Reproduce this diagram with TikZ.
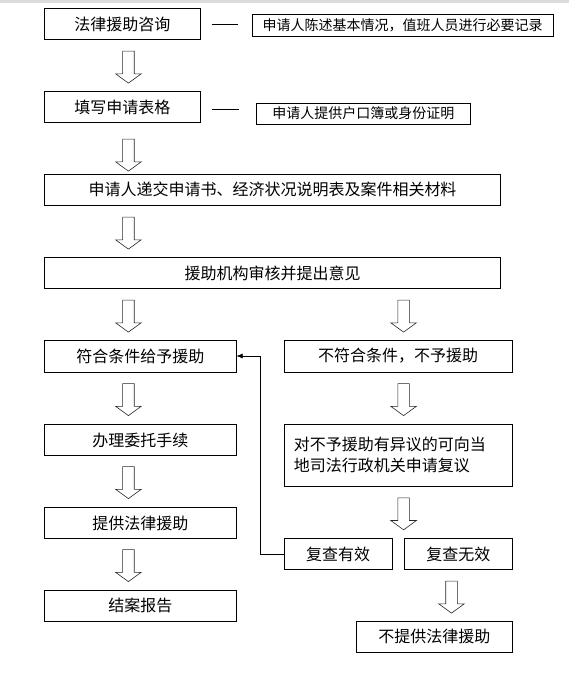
\documentclass[tikz,border=0pt]{standalone}
\usepackage{fontspec}
\setmainfont{Noto Sans CJK SC}
\usetikzlibrary{arrows.meta,shapes.arrows,calc}
\definecolor{cEdge}{RGB}{220,220,220}
\tikzset{
  box/.style     = {draw=black, line width=0.8pt, inner sep=0pt,
                    minimum height=31pt, font=\fontsize{16}{19}\selectfont,
                    align=center},
  sidebox/.style = {draw=black, line width=0.8pt, inner sep=0pt,
                    font=\fontsize{14}{16}\selectfont},
  hollow/.style  = {single arrow, draw=black!85, line width=0.6pt,
                    shape border rotate=270, inner sep=5.5pt,
                    minimum height=32pt, minimum width=25pt,
                    single arrow head extend=7pt,
                    single arrow tip angle=108},
  flow/.style    = {-{Latex[length=6pt,width=5pt]}, black, line width=0.6pt},
  dashln/.style  = {black, line width=0.6pt},
}

\begin{document}
\begin{tikzpicture}[x=1pt,y=-1pt]
  \useasboundingbox (0,0) rectangle (569,675);
  \fill[cEdge] (0,0) rectangle (569,2.5);

  %% ---------------- intake ------------------------------------------
  \node[box, minimum width=156pt] (zixun) at (122.4,24) {法律援助咨询};
  \node[sidebox, minimum width=301pt, minimum height=22pt] (jilu)
       at (402.6,25) {申请人陈述基本情况，值班人员进行必要记录};
  \draw[dashln, shorten <=11pt, shorten >=14pt] (zixun.east) -- (zixun.east -| jilu.west);

  \node[hollow] (d1) at (128.4,65) {};

  \node[box, minimum width=156pt] (biaoge) at (122.4,107) {填写申请表格};
  \node[sidebox, minimum width=214pt, minimum height=21pt] (zhengming)
       at (363.4,113.5) {申请人提供户口簿或身份证明};
  \draw[dashln] ($(biaoge.east)+(11,2)$) -- ++(27,0);

  \node[hollow] (d2) at (128.4,153) {};

  \node[box, minimum width=456pt] (dijiao) at (272.5,189.7)
       {申请人递交申请书、经济状况说明表及案件相关材料};

  \node[hollow] (d3) at (128.4,231) {};

  \node[box, minimum width=456pt] (shenhe) at (272.5,273) {援助机构审核并提出意见};

  \node[hollow] (d4) at (128.4,314) {};
  \node[hollow] (e4) at (403.6,314) {};

  %% ---------------- left column: granted ----------------------------
  \node[box, minimum width=191.5pt, minimum height=32pt] (fuhe) at (140.4,356) {符合条件给予援助};
  \node[hollow] (d5) at (128.4,397.5) {};
  \node[box, minimum width=191.5pt] (weituo) at (140.4,440) {办理委托手续};
  \node[hollow] (d6) at (128.4,480.5) {};
  \node[box, minimum width=191.5pt] (tigong) at (140.4,523) {提供法律援助};
  \node[hollow] (d7) at (128.4,563.5) {};
  \node[box, minimum width=191.5pt] (jiean) at (140.4,605.5) {结案报告};

  %% ---------------- right column: refused ---------------------------
  \node[box, minimum width=228.5pt, minimum height=32pt] (bufuhe) at (398.2,356)
       {不符合条件，不予援助};
  \node[hollow] (e5) at (403.6,397.5) {};
  \node[box, minimum width=228.5pt, minimum height=62pt, text width=208.5pt,
        inner xsep=10pt, align=left, font=\fontsize{16}{21.7}\selectfont]
       (fuyi) at (398.2,455) {对不予援助有异议的可向当\\地司法行政机关申请复议\\[2pt]};
  \node[hollow] (e6) at (403.6,511.7) {};
  \node[box, minimum width=108.4pt] (youxiao) at (338.2,554) {复查有效};
  \node[box, minimum width=108.4pt] (wuxiao) at (458.3,554) {复查无效};
  \node[hollow] (e7) at (451.5,595) {};
  \node[box, minimum width=156.4pt] (buti) at (434.3,636.7) {不提供法律援助};

  % review upheld: back to the granted branch
  \coordinate (turn) at (260.4,0);
  \draw[flow] (youxiao.west) -- (youxiao.west -| turn) |- (fuhe.east);
\end{tikzpicture}
\end{document}
